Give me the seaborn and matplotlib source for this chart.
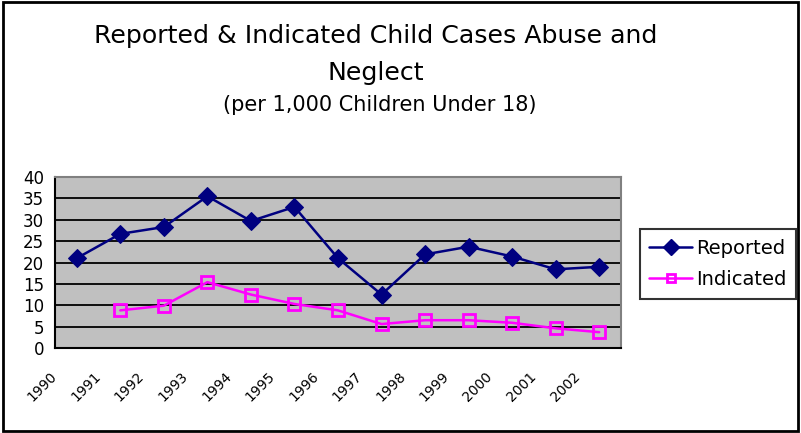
import matplotlib
matplotlib.use("Agg")
import matplotlib.pyplot as plt
import seaborn as sns
import numpy as np
import pandas as pd
from matplotlib.patches import Rectangle
from matplotlib.lines import Line2D

years = ["1990", "1991", "1992", "1993", "1994", "1995", "1996",
         "1997", "1998", "1999", "2000", "2001", "2002"]
reported = [21.0, 26.7, 28.3, 35.5, 29.7, 33.0, 21.0, 12.5, 21.9, 23.7, 21.4, 18.4, 19.0]
indicated = [np.nan, 8.8, 9.9, 15.4, 12.5, 10.3, 8.8, 5.6, 6.5, 6.5, 5.9, 4.6, 3.7]
y_ticks = [0, 5, 10, 15, 20, 25, 30, 35, 40]

df = pd.DataFrame({"idx": np.arange(len(years)), "Reported": reported, "Indicated": indicated})

sns.set_style("white")
plt.rcParams["font.family"] = ["DejaVu Sans"]
plt.rcParams["text.color"] = "black"
plt.rcParams["xtick.color"] = "black"
plt.rcParams["ytick.color"] = "black"
plt.rcParams["xtick.labelcolor"] = "black"
plt.rcParams["ytick.labelcolor"] = "black"

W, H = 801, 433
fig = plt.figure(figsize=(W / 100, H / 100), dpi=100)
ax = fig.add_axes([55 / W, (H - 348) / H, 566 / W, 171 / H])
ax.set_facecolor("#C0C0C0")

for y in y_ticks[1:-1]:
    ax.axhline(y, color="black", lw=1.3, zorder=1)

sns.lineplot(data=df, x="idx", y="Reported", ax=ax, color="#000080", lw=1.8,
             marker="D", markersize=9, markeredgecolor="#000080",
             markerfacecolor="#000080", zorder=3)
sns.lineplot(data=df.dropna(), x="idx", y="Indicated", ax=ax, color="#FF00FF", lw=1.8,
             marker="s", markersize=8, markeredgecolor="#FF00FF",
             markerfacecolor="none", markeredgewidth=2, zorder=3)

ax.set_xlim(-0.5, len(years) - 0.5)
ax.set_ylim(0, 40)
ax.set_yticks(y_ticks)
ax.set_yticklabels([str(v) for v in y_ticks], fontsize=12, color="black")
ax.set_xticks(np.arange(-0.5, len(years), 1.0))
ax.set_xticklabels(years + [""], fontsize=10, rotation=45, ha="right",
                   rotation_mode="anchor", va="center", color="black")
ax.tick_params(axis="x", direction="out", length=6, width=1.5, pad=13, colors="black")
ax.tick_params(axis="y", direction="out", length=5, width=1.5, pad=3, colors="black")
ax.set_xlabel("")
ax.set_ylabel("")

for s in ["left", "bottom"]:
    ax.spines[s].set_color("black")
    ax.spines[s].set_linewidth(1.5)
for s in ["top", "right"]:
    ax.spines[s].set_color("#808080")
    ax.spines[s].set_linewidth(1.5)
    ax.spines[s].set_visible(True)

handles = [Line2D([0], [0], color="#000080", lw=1.8, marker="D", markersize=8),
           Line2D([0], [0], color="#FF00FF", lw=1.8, marker="s", markersize=6,
                  markerfacecolor="none", markeredgewidth=2)]
leg = fig.legend(handles, ["Reported", "Indicated"], loc="center",
                 bbox_to_anchor=(718 / W, 1 - 264 / H), fontsize=14, frameon=True,
                 fancybox=False, edgecolor="black", handlelength=2.2, handletextpad=0.2,
                 borderpad=0.5, labelspacing=0.6, borderaxespad=0)
leg.get_frame().set_linewidth(1.5)
for t in leg.get_texts():
    t.set_color("black")

fig.text(376 / W, 1 - 36 / H, "Reported & Indicated Child Cases Abuse and",
         ha="center", va="center", fontsize=18.2, color="black")
fig.text(376 / W, 1 - 73 / H, "Neglect", ha="center", va="center", fontsize=18.2,
         color="black")
fig.text(380 / W, 1 - 105 / H, "(per 1,000 Children Under 18)", ha="center",
         va="center", fontsize=15, color="black")

fig.patches.append(Rectangle((3 / W, 2 / H), (W - 6) / W, (H - 4) / H,
                             transform=fig.transFigure, fill=False,
                             edgecolor="black", lw=2))

fig.savefig("out.png", dpi=100)
